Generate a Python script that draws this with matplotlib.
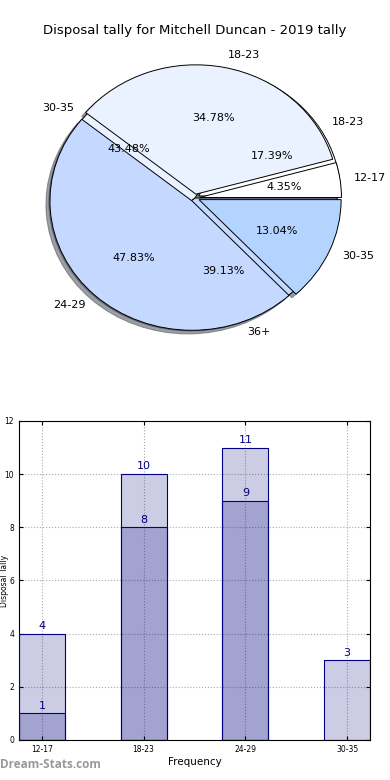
import matplotlib
matplotlib.use("Agg")
import matplotlib.pyplot as plt
import numpy as np

# pie data (two overlaid pies, as in the source chart)
back_labels = ["18-23", "30-35", "36+"]
back_values = [4, 10, 9]
front_labels = ["12-17", "18-23", "24-29", "30-35"]
front_values = [1, 8, 11, 3]
pie_colors = ["white", "#EBF2FF", "#C5D8FF", "#B3D4FF"]

# bar data
age_groups = ["12-17", "18-23", "24-29", "30-35"]
tally_total = [4, 10, 11, 3]
tally_inner = [1, 8, 9, 0]

fig = plt.figure(figsize=(3.9, 7.8), dpi=100)

# --- pie ---
ax1 = fig.add_axes([0.0353, 0.5346, 0.9295, 0.423])
txt = dict(fontsize=8)
ax1.pie(back_values, labels=back_labels, colors=pie_colors[:3], radius=0.98,
        autopct="%1.2f%%", explode=(0.03, 0.0, 0.0), shadow=True,
        wedgeprops=dict(edgecolor="black", linewidth=0.7), textprops=txt)
ax1.pie(front_values, labels=front_labels, colors=pie_colors, radius=0.98,
        autopct="%1.2f%%", explode=(0.03, 0.03, 0.03, 0.03), shadow=True,
        wedgeprops=dict(edgecolor="black", linewidth=0.7), textprops=txt)
ax1.set_aspect("auto")
ax1.set_xlim(-1.25, 1.25)
ax1.set_ylim(-1.25, 1.25)
fig.text(0.5, 0.961, "Disposal tally for Mitchell Duncan - 2019 tally",
         ha="center", va="center", fontsize=9.5)

# --- bars ---
ax2 = fig.add_axes([0.0487, 0.0513, 0.9, 0.409])
x = np.arange(len(age_groups))
w = 0.45
ax2.bar(x, tally_total, w, color="navy", alpha=0.2, zorder=2)
ax2.bar(x, tally_total, w, facecolor="none", edgecolor="navy", linewidth=0.8, zorder=3)
inner_x = [xi for xi, v in zip(x, tally_inner) if v > 0]
inner_v = [v for v in tally_inner if v > 0]
ax2.bar(inner_x, inner_v, w, color="navy", alpha=0.2, zorder=2)
ax2.bar(inner_x, inner_v, w, facecolor="none", edgecolor="navy", linewidth=0.8, zorder=3)

for xi, v in zip(x, tally_total):
    ax2.text(xi, v + 0.1, str(v), ha="center", va="bottom", color="navy", fontsize=8)
for xi, v in zip(inner_x, inner_v):
    ax2.text(xi, v + 0.1, str(v), ha="center", va="bottom", color="navy", fontsize=8)

ax2.set_xlim(-w / 2, len(age_groups) - 1 + w / 2)
ax2.set_ylim(0, 12)
ax2.set_xticks(x)
ax2.set_xticklabels(age_groups)
ax2.set_yticks(range(0, 13, 2))
ax2.tick_params(direction="in", labelsize=5.5, top=True, right=True, length=3)
ax2.grid(True, linestyle=":", color="#aaaaaa", linewidth=0.8, zorder=0)
ax2.set_axisbelow(True)
ax2.set_xlabel("Frequency", fontsize=7.5, labelpad=2)
ax2.set_ylabel("Disposal Tally", fontsize=5.5, labelpad=0)
ax2.yaxis.set_label_coords(-0.029, 0.5)

fig.text(0.0, 0.012, "Dream-Stats.com", fontsize=8.5, color="#999999",
         family="Open Sans", fontweight="bold", ha="left", va="bottom")

fig.savefig("out.png", dpi=100)
